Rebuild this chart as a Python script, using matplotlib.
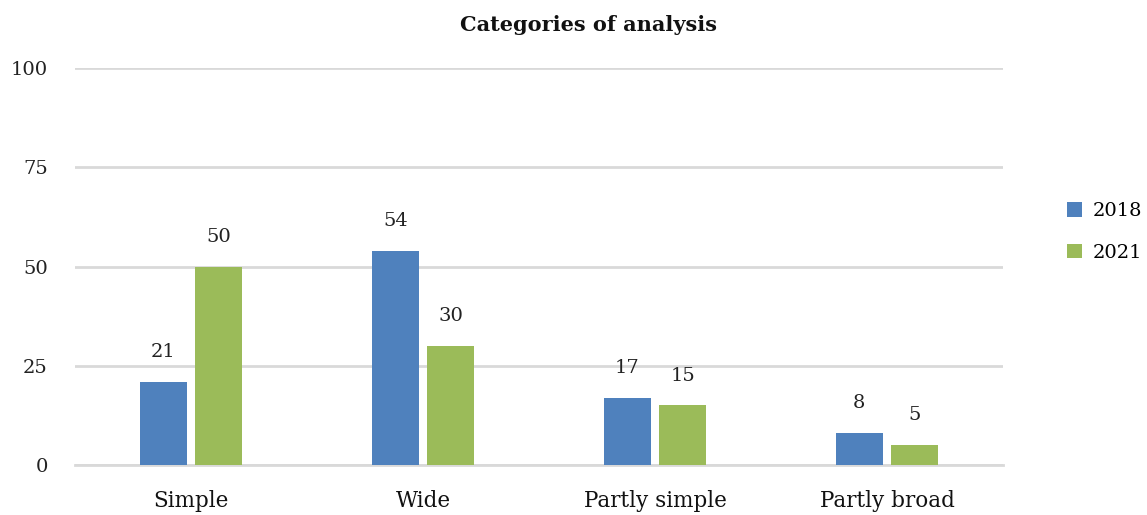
import matplotlib.pyplot as plt
import numpy as np

categories = ["Simple", "Wide", "Partly simple", "Partly broad"]
series_names = ["2018", "2021"]
values_2018 = [21, 54, 17, 8]
values_2021 = [50, 30, 15, 5]
y_ticks = [0, 25, 50, 75, 100]

colors = ["#4f81bd", "#9bbb59"]
plt.rcParams['font.family'] = ['DejaVu Serif']

fig = plt.figure(figsize=(11.47, 5.15), dpi=100)
ax = fig.add_axes([75 / 1147, 1 - 465 / 515, 928 / 1147, 397 / 515])

x = np.arange(len(categories))
bw = 0.203
gap = 0.035
off = bw / 2 + gap / 2
for vals, name, col, dx in zip([values_2018, values_2021], series_names, colors, [-off, off]):
    bars = ax.bar(x + dx, vals, width=bw, color=col, label=name, zorder=3)
    for b, v in zip(bars, vals):
        ax.annotate(str(v), (b.get_x() + b.get_width() / 2, v), xytext=(0, 15),
                    textcoords="offset points", ha="center", va="bottom",
                    fontsize=14, color="#222222")

ax.set_xlim(-0.5, len(categories) - 0.5)
ax.set_ylim(0, 100)
ax.set_yticks(y_ticks)
ax.set_yticklabels([str(t) for t in y_ticks], fontsize=14, color="#222222")
ax.set_xticks(x)
ax.set_xticklabels(categories, fontsize=15.5, color="#111111")
ax.tick_params(axis="y", length=0, pad=19.5)
ax.tick_params(axis="x", length=0, pad=18)
ax.grid(axis="y", color="#d9d9d9", linewidth=2, zorder=0)
for s in ["top", "right", "left"]:
    ax.spines[s].set_visible(False)
ax.spines["bottom"].set_color("#d9d9d9")
ax.spines["bottom"].set_linewidth(2)

fig.text(588 / 1147, 1 - 25 / 515, "Categories of analysis", ha="center", va="center",
         fontsize=15, fontweight="bold", color="#111111")

leg = fig.legend(loc="center left", bbox_to_anchor=(1067 / 1147, 1 - 232 / 515),
                 frameon=False, fontsize=14, handlelength=0.77, handleheight=0.77,
                 labelspacing=1.2, handletextpad=0.55, borderpad=0, borderaxespad=0)

fig.savefig("out.png", dpi=100)
